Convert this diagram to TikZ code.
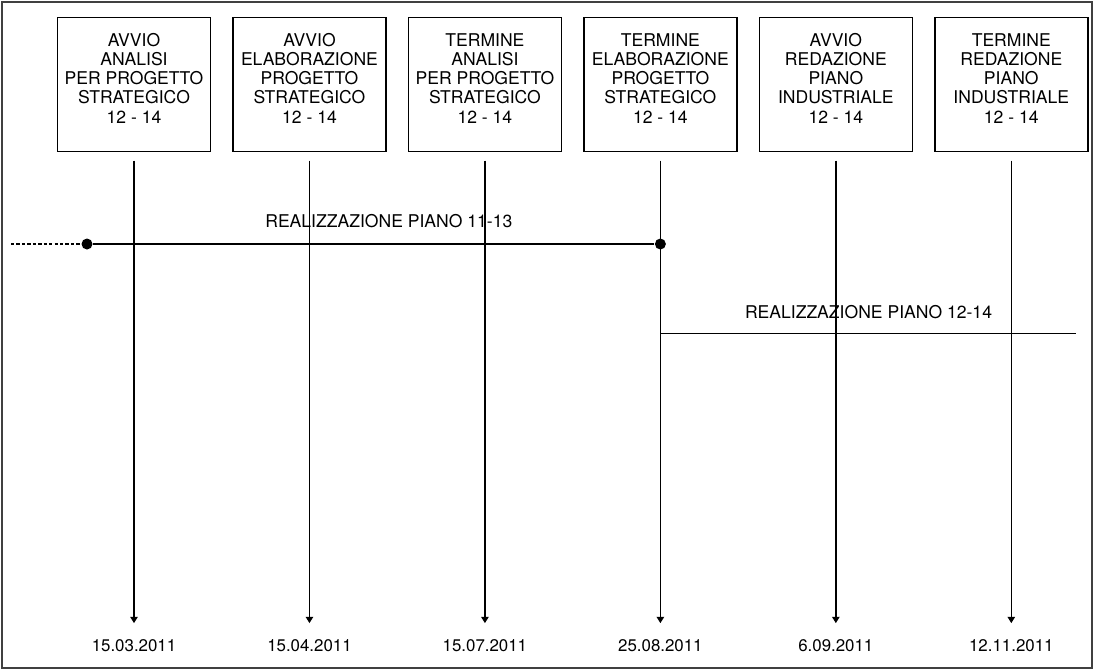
\documentclass[tikz,border=0pt]{standalone}
\usepackage{fontspec}
\setmainfont{TeX Gyre Heros}
\usetikzlibrary{arrows.meta,positioning}

\begin{document}
\begin{tikzpicture}[x=0.02cm, y=-0.02cm, node distance=0.42cm, line width=0.85pt,
    tbox/.style={draw, minimum width=3.06cm, minimum height=2.68cm, inner sep=0pt,
        align=center, font=\fontsize{10}{10.8}\selectfont, text depth=6.8pt},
    date/.style={font=\fontsize{9.6}{11}\selectfont},
    dot/.style={circle, fill, inner sep=0pt, minimum size=0.22cm},
    arr/.style={-{Triangle[length=3.6pt,width=4.2pt]}, shorten <=0.17cm, shorten >=0.2cm}]
    \useasboundingbox (0,0) rectangle (1097,670);
    \draw[black!75, line width=0.9pt] (2,2) rectangle (1092,668);

    % milestones
    \node[tbox] (b1) at (134,84.5) {AVVIO\\ANALISI\\PER PROGETTO\\STRATEGICO\\[1pt]12 - 14};
    \node[tbox, right=of b1] (b2) {AVVIO\\ELABORAZIONE\\PROGETTO\\STRATEGICO\\[1pt]12 - 14};
    \node[tbox, right=of b2] (b3) {TERMINE\\ANALISI\\PER PROGETTO\\STRATEGICO\\[1pt]12 - 14};
    \node[tbox, right=of b3] (b4) {TERMINE\\ELABORAZIONE\\PROGETTO\\STRATEGICO\\[1pt]12 - 14};
    \node[tbox, right=of b4] (b5) {AVVIO\\REDAZIONE\\PIANO\\INDUSTRIALE\\[1pt]12 - 14};
    \node[tbox, right=of b5] (b6) {TERMINE\\REDAZIONE\\PIANO\\INDUSTRIALE\\[1pt]12 - 14};

    % dates
    \node[date, below=9.62cm of b1] (d1) {15.03.2011};
    \node[date, below=9.62cm of b2] (d2) {15.04.2011};
    \node[date, below=9.62cm of b3] (d3) {15.07.2011};
    \node[date, below=9.62cm of b4] (d4) {25.08.2011};
    \node[date, below=9.62cm of b5] (d5) {6.09.2011};
    \node[date, below=9.62cm of b6] (d6) {12.11.2011};

    \draw[arr] (b1) -- (d1);
    \draw[arr] (b2) -- (d2);
    \draw[arr] (b3) -- (d3);
    \draw[arr] (b4) -- (d4);
    \draw[arr] (b5) -- (d5);
    \draw[arr] (b6) -- (d6);

    % plans
    \coordinate (s1) at (11,244);
    \node[dot] (p1) at (87,244) {};
    \node[dot] (p2) at (b4 |- p1) {};
    \draw[dash pattern=on 1.9pt off 1.2pt] (s1) -- (p1);
    \draw (p1) -- node[above=0.2cm, pos=0.527, font=\fontsize{10}{11}\selectfont] {REALIZZAZIONE PIANO 11-13} (p2);

    \coordinate (q1) at (661,333.5);
    \coordinate (q2) at (1076,333.5);
    \draw (q1) -- node[above=0.17cm, font=\fontsize{10}{11}\selectfont] {REALIZZAZIONE PIANO 12-14} (q2);
\end{tikzpicture}
\end{document}
